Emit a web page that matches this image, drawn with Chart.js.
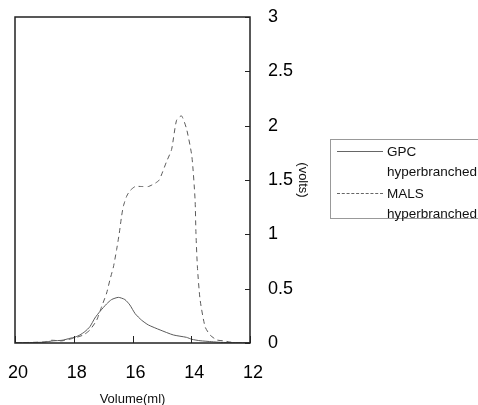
<!DOCTYPE html>
<html>
<head>
<meta charset="utf-8">
<script src="https://cdn.jsdelivr.net/npm/chart.js@4.4.1/dist/chart.umd.min.js"></script>
<style>
  html, body { margin: 0; padding: 0; background: #fff; overflow: hidden; }
  #wrap { position: relative; width: 478px; height: 405px; }
  #legend {
    position: absolute; left: 330px; top: 139px; width: 160px; height: 80px;
    border: 1px solid #999; box-sizing: border-box;
    font: 13.5px "Liberation Sans", Arial, sans-serif; color: #111;
  }
  .row { position: absolute; left: 56px; }
  .sample { position: absolute; left: 6px; width: 46px; height: 0; border-top: 1px solid #666; }
  .sample.dash { border-top: 1px dashed #666; }
</style>
</head>
<body>
<div id="wrap">
  <canvas id="chart" width="478" height="405"></canvas>
  <div id="legend">
    <div class="sample" style="top:11px"></div>
    <div class="row" style="top:4px">GPC</div>
    <div class="row" style="top:24px">hyperbranched</div>
    <div class="sample dash" style="top:53px"></div>
    <div class="row" style="top:46px">MALS</div>
    <div class="row" style="top:66px">hyperbranched</div>
  </div>
</div>
<script>
// Elution volume (ml) and detector signal (volts)
const gpcVolume = [20, 19.5, 19.0, 18.7, 18.4, 18.13, 17.95, 17.79, 17.62, 17.45, 17.28, 17.11, 16.88, 16.71, 16.48, 16.26, 16.09, 15.91, 15.69, 15.46, 15.06, 14.61, 14.16, 13.98, 13.70, 13.30, 13.0, 12.5, 12.0];
const gpcSignal = [0.004, 0.004, 0.008, 0.02, 0.025, 0.043, 0.055, 0.074, 0.105, 0.15, 0.23, 0.29, 0.36, 0.40, 0.42, 0.40, 0.35, 0.27, 0.21, 0.166, 0.12, 0.074, 0.052, 0.034, 0.021, 0.012, 0.006, 0.004, 0.003];

const malsVolume = [20, 19.5, 19.0, 18.75, 18.4, 18.0, 17.67, 17.45, 17.22, 17.05, 16.88, 16.77, 16.65, 16.54, 16.45, 16.37, 16.31, 16.20, 16.09, 15.91, 15.69, 15.46, 15.23, 15.09, 14.84, 14.67, 14.50, 14.33, 14.16, 13.98, 13.87, 13.84, 13.79, 13.70, 13.53, 13.36, 13.13, 12.91, 12.7, 12.5, 12.0];
const malsSignal = [0.004, 0.005, 0.01, 0.025, 0.02, 0.045, 0.074, 0.12, 0.21, 0.335, 0.46, 0.58, 0.70, 0.86, 1.01, 1.17, 1.26, 1.35, 1.40, 1.44, 1.44, 1.44, 1.47, 1.50, 1.67, 1.78, 2.05, 2.09, 1.97, 1.72, 1.32, 1.01, 0.70, 0.40, 0.15, 0.074, 0.028, 0.02, 0.01, 0.004, 0.003];

const xTicks = [20, 18, 16, 14, 12];
const yTicks = [0, 0.5, 1, 1.5, 2, 2.5, 3];

const toPoints = (xs, ys) => xs.map((v, i) => ({ x: v, y: ys[i] }));

// box around the plot plus small inward tick marks
const framePlugin = {
  id: "frame",
  afterDatasetsDraw(chart) {
    const { ctx, chartArea: a, scales: { x, y } } = chart;
    ctx.save();
    ctx.strokeStyle = "#222";
    ctx.lineWidth = 1.5;
    ctx.strokeRect(a.left, a.top, a.right - a.left, a.bottom - a.top);
    ctx.lineWidth = 1;
    ctx.beginPath();
    y.ticks.forEach(t => {
      const py = Math.round(y.getPixelForValue(t.value)) + 0.5;
      ctx.moveTo(a.right - 5, py);
      ctx.lineTo(a.right, py);
    });
    x.ticks.forEach(t => {
      const px = Math.round(x.getPixelForValue(t.value)) + 0.5;
      ctx.moveTo(px, a.bottom);
      ctx.lineTo(px, a.bottom - 7);
    });
    ctx.stroke();
    ctx.restore();
  }
};

new Chart(document.getElementById("chart"), {
  type: "line",
  data: {
    datasets: [
      {
        label: "GPC hyperbranched",
        data: toPoints(gpcVolume, gpcSignal),
        borderColor: "#5a5a5a",
        borderWidth: 1,
        pointRadius: 0,
        tension: 0.2,
      },
      {
        label: "MALS hyperbranched",
        data: toPoints(malsVolume, malsSignal),
        borderColor: "#5a5a5a",
        borderWidth: 1,
        borderDash: [5, 4],
        pointRadius: 0,
        tension: 0.2,
      },
    ],
  },
  options: {
    responsive: false,
    animation: false,
    layout: { padding: { left: 15, top: 17, right: 168, bottom: 0 } },
    plugins: {
      legend: { display: false },
      tooltip: { enabled: false },
    },
    scales: {
      x: {
        type: "linear",
        reverse: true,
        min: 12,
        max: 20,
        afterBuildTicks: s => { s.ticks = xTicks.map(v => ({ value: v })); },
        afterFit: s => {
          s.height = 62;
          s.paddingLeft = 0;
          s.paddingRight = 0;
        },
        grid: { display: false },
        border: { display: false },
        ticks: {
          color: "#000",
          padding: 11,
          labelOffset: 3,
          maxRotation: 0,
          font: { family: "'Liberation Sans', Arial, sans-serif", size: 18 },
        },
        title: {
          display: true,
          text: "Volume(ml)",
          color: "#111",
          padding: { top: 0, bottom: -2 },
          font: { family: "'Liberation Sans', Arial, sans-serif", size: 13 },
        },
      },
      y: {
        position: "right",
        min: 0,
        max: 3,
        afterBuildTicks: s => { s.ticks = yTicks.map(v => ({ value: v })); },
        afterFit: s => {
          s.width = 60;
          s.paddingTop = 0;
          s.paddingBottom = 0;
        },
        grid: { display: false },
        border: { display: false },
        ticks: {
          color: "#000",
          padding: 10,
          callback: v => String(v),
          font: { family: "'Liberation Sans', Arial, sans-serif", size: 18 },
        },
        title: {
          display: true,
          text: "(volts)",
          color: "#111",
          padding: { top: 0, bottom: 0 },
          font: { family: "'Liberation Sans', Arial, sans-serif", size: 13 },
        },
      },
    },
  },
  plugins: [framePlugin],
});
</script>
</body>
</html>
